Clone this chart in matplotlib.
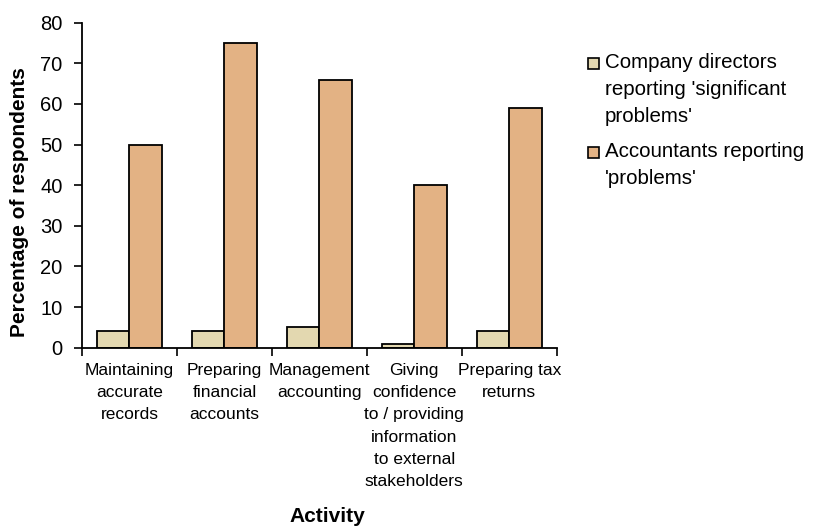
import matplotlib
matplotlib.use("Agg")
import matplotlib.pyplot as plt
from matplotlib.patches import Rectangle
import numpy as np

plt.rcParams['font.family'] = ['Liberation Sans', 'DejaVu Sans']

categories = [
    "Maintaining\naccurate\nrecords",
    "Preparing\nfinancial\naccounts",
    "Management\naccounting",
    "Giving\nconfidence\nto / providing\ninformation\nto external\nstakeholders",
    "Preparing tax\nreturns",
]
directors = [4, 4, 5, 1, 4]
accountants = [50, 75, 66, 40, 59]
series_labels = [
    "Company directors\nreporting 'significant\nproblems'",
    "Accountants reporting\n'problems'",
]
colors = ["#E3D8B0", "#E3B284"]

fig = plt.figure(figsize=(8.13, 5.29), dpi=100)
ax = fig.add_axes([82 / 813, 1 - 347.7 / 529, (556.7 - 82) / 813, (347.7 - 22.7) / 529])

x = np.arange(len(categories))
w = 0.34
ax.bar(x - w / 2, directors, w, color=colors[0], edgecolor="black", linewidth=1.3)
ax.bar(x + w / 2, accountants, w, color=colors[1], edgecolor="black", linewidth=1.3)

ax.set_xlim(-0.5, len(categories) - 0.5)
ax.set_ylim(0, 80)
ax.set_yticks(range(0, 81, 10))
ax.tick_params(axis="y", labelsize=14.5, length=6, width=1.2, direction="out", pad=8)

ax.set_xticks(x)
ax.set_xticklabels(categories, fontsize=12.5, linespacing=1.6, va="top")
ax.set_xticks(np.arange(-0.5, len(categories), 1.0), minor=True)
ax.tick_params(axis="x", which="major", length=0, pad=11)
ax.tick_params(axis="x", which="minor", length=6, width=1.2, direction="out")

for s in ["top", "right"]:
    ax.spines[s].set_visible(False)
for s in ["left", "bottom"]:
    ax.spines[s].set_linewidth(1.3)

fig.text(20 / 813, 1 - 202 / 529, "Percentage of respondents", fontsize=15,
         fontweight="bold", rotation=90, ha="center", va="center")
fig.text(327 / 813, 1 - 517 / 529, "Activity", fontsize=15, fontweight="bold",
         ha="center", va="center")

# legend drawn as squares with multi-line labels aligned to the first line
legend_tops = [57.7, 146.7]
for top, c, lab in zip(legend_tops, colors, series_labels):
    fig.patches.append(Rectangle((587.5 / 813, 1 - (top + 11) / 529), 11 / 813, 11 / 529,
                                 transform=fig.transFigure, facecolor=c,
                                 edgecolor="black", linewidth=1.2))
    fig.text(605 / 813, 1 - (top - 5) / 529, lab, fontsize=14.8, ha="left", va="top",
             linespacing=1.55)

fig.savefig("out.png", dpi=100)
